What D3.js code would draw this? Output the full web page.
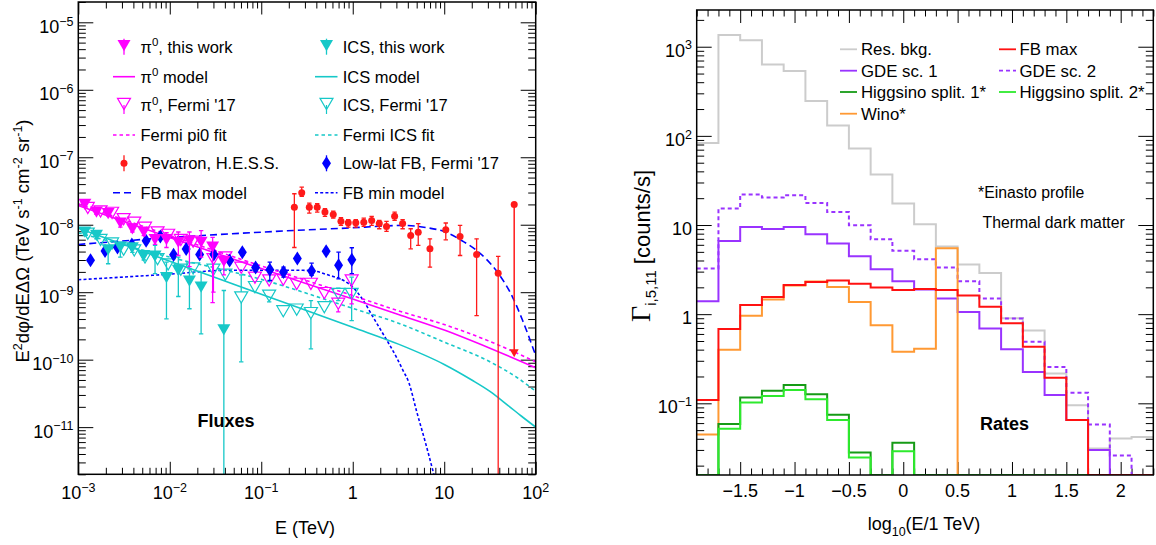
<!DOCTYPE html>
<html><head><meta charset="utf-8">
<script src="https://cdn.jsdelivr.net/npm/d3@7/dist/d3.min.js"></script>
<style>
html,body{margin:0;padding:0;background:#fff;}
svg{display:block;}
text{font-family:"Liberation Sans",Arial,Helvetica,sans-serif;fill:#000;}
</style></head><body>
<svg id="chart" width="1156" height="545"></svg>
<script>
// ================= LEFT PANEL DATA (E in TeV; E^2 dphi/dE dOmega in TeV s^-1 cm^-2 sr^-1) =================
const pi0WorkE  = [1.18e-3,1.58e-3,2.12e-3,2.88e-3,3.9e-3,5.2e-3,6.9e-3,9.2e-3,1.24e-2,1.64e-2,2.2e-2,2.94e-2,3.9e-2];
const pi0WorkV  = [2.0e-8,1.54e-8,1.46e-8,1.06e-8,8.7e-9,7.8e-9,6.0e-9,6.0e-9,5.5e-9,5.7e-9,5.5e-9,4.66e-9,2.85e-9];
const pi0WorkHi = [2.15e-8,1.66e-8,1.58e-8,1.2e-8,9.7e-9,8.8e-9,7.0e-9,7.6e-9,7.8e-9,7.8e-9,8.2e-9,6.5e-9,3.4e-9];
const pi0WorkLo = [1.85e-8,1.42e-8,1.35e-8,9.2e-9,7.8e-9,6.9e-9,5.1e-9,4.6e-9,3.5e-9,2.4e-9,3.3e-9,7.0e-10,1.8e-9];

const icsWorkE  = [1.18e-3,1.58e-3,2.12e-3,2.88e-3,3.9e-3,5.2e-3,6.9e-3,9.2e-3,1.24e-2,1.64e-2,2.2e-2,3.9e-2];
const icsWorkV  = [7.76e-9,6.93e-9,4.26e-9,4.65e-9,4.56e-9,3.5e-9,3.42e-9,1.64e-9,2.10e-9,1.46e-9,1.19e-9,2.77e-10];
const icsWorkHi = [8.6e-9,7.7e-9,4.66e-9,5.5e-9,5.2e-9,4.0e-9,4.93e-9,2.79e-9,3.31e-9,2.22e-9,1.98e-9,1.06e-9];
const icsWorkLo = [7.0e-9,6.2e-9,2.64e-9,3.3e-9,3.9e-9,3.0e-9,1.88e-9,4.03e-10,8.63e-10,5.68e-10,2.41e-10,1e-14];

const fermiE     = [1.27e-3,1.75e-3,2.34e-3,3.13e-3,4.09e-3,5.36e-3,7.35e-3,9.6e-3,1.32e-2,1.80e-2,3.0e-2,4.05e-2,6.04e-2,8.53e-2,0.122,0.174,0.244,0.349,0.489,0.695,0.973];
const pi0FermiV  = [1.77e-8,1.57e-8,1.50e-8,1.21e-8,1.07e-8,9.0e-9,7.7e-9,7.08e-9,5.93e-9,5.6e-9,3.09e-9,3.27e-9,2.3e-9,1.64e-9,1.49e-9,1.53e-9,1.33e-9,1.33e-9,9.7e-10,6.73e-10,1.49e-9];
const pi0FermiHi = [1.9e-8,1.68e-8,1.6e-8,1.3e-8,1.15e-8,9.7e-9,8.3e-9,7.7e-9,6.5e-9,6.2e-9,4.2e-9,3.7e-9,2.55e-9,1.8e-9,1.64e-9,1.68e-9,1.46e-9,1.47e-9,1.08e-9,8.0e-10,1.67e-9];
const pi0FermiLo = [1.64e-8,1.46e-8,1.4e-8,1.12e-8,9.9e-9,8.3e-9,7.1e-9,6.5e-9,5.4e-9,5.0e-9,1.0e-9,2.8e-9,2.05e-9,1.48e-9,1.34e-9,1.38e-9,1.2e-9,1.19e-9,8.6e-10,5.1e-10,6.7e-10];
const icsFermiV  = [7.35e-9,5.93e-9,5.26e-9,4.26e-9,4.16e-9,3.27e-9,3.09e-9,2.58e-9,2.16e-9,2.24e-9,2.16e-9,1.81e-9,8.37e-10,1.19e-9,8.87e-10,5.21e-10,5.52e-10,4.9e-10,6.0e-10,9.4e-10,9.4e-10];
const icsFermiHi = [7.9e-9,6.4e-9,5.7e-9,4.6e-9,4.5e-9,3.55e-9,3.35e-9,2.8e-9,2.35e-9,2.45e-9,2.4e-9,2.0e-9,1.8e-9,1.4e-9,1.05e-9,5.9e-10,6.2e-10,7.5e-10,7.0e-10,1.15e-9,1.67e-9];
const icsFermiLo = [6.8e-9,5.45e-9,4.8e-9,3.9e-9,3.8e-9,3.0e-9,2.83e-9,2.36e-9,1.97e-9,2.04e-9,1.95e-9,1.62e-9,9.3e-11,1.0e-9,7.2e-10,4.55e-10,4.85e-10,1.45e-10,5.0e-10,7.5e-10,3.8e-10];

const hessE  = [0.230,0.277,0.335,0.409,0.497,0.612,0.743,0.893,1.08,1.32,1.61,1.95,2.34,2.87,3.51,4.30,5.20,6.98,10.4,14.9,22.6,38.9];
const hessV  = [1.82e-8,2.99e-8,1.82e-8,1.82e-8,1.54e-8,1.42e-8,1.13e-8,1.07e-8,1.07e-8,1.09e-8,1.16e-8,1.04e-8,9.44e-9,1.33e-8,1.04e-8,6.94e-9,7.76e-9,4.4e-9,8.43e-9,6.7e-9,3.62e-9,1.91e-9];
const hessHi = [2.88e-8,3.6e-8,2.09e-8,2.05e-8,1.73e-8,1.59e-8,1.27e-8,1.19e-8,1.19e-8,1.25e-8,1.33e-8,1.16e-8,1.12e-8,1.54e-8,1.19e-8,8.72e-9,1.04e-8,6.19e-9,1.06e-8,9.77e-9,6.19e-9,3.39e-9];
const hessLo = [4.6e-9,2.63e-8,1.49e-8,1.54e-8,1.33e-8,1.25e-8,9.77e-9,9.2e-9,9.2e-9,9.44e-9,9.77e-9,8.72e-9,7.96e-9,1.16e-8,8.72e-9,4.4e-9,4.93e-9,2.35e-9,5.98e-9,3.5e-9,4.5e-10,1e-14];
const hessUL = {E: 58.2, V: 2.0e-8, arrowTo: 1.09e-10};

const lowLatE  = [1.36e-3,1.96e-3,2.68e-3,3.85e-3,5.51e-3,7.89e-3,1.10e-2,1.51e-2,2.12e-2,3.03e-2,4.51e-2,6.21e-2,8.67e-2,0.124,0.175,0.248,0.355,0.512,0.700,0.977];
const lowLatV  = [2.98e-9,4.07e-9,4.59e-9,5.1e-9,5.81e-9,6.7e-9,3.6e-9,4.36e-9,3.63e-9,3.63e-9,2.95e-9,3.9e-9,2.32e-9,2.15e-9,1.99e-9,3.16e-9,2.07e-9,4.04e-9,2.5e-9,3.03e-9];
const lowLatHi = [3.2e-9,4.35e-9,4.9e-9,5.45e-9,6.2e-9,7.15e-9,3.85e-9,4.7e-9,3.95e-9,3.95e-9,3.2e-9,4.25e-9,2.6e-9,2.79e-9,2.35e-9,3.45e-9,2.69e-9,4.4e-9,3.92e-9,4.56e-9];
const lowLatLo = [2.76e-9,3.8e-9,4.3e-9,4.75e-9,5.4e-9,6.25e-9,3.35e-9,4.05e-9,3.33e-9,3.33e-9,2.7e-9,3.55e-9,2.05e-9,1.49e-9,1.67e-9,2.88e-9,1.77e-9,3.7e-9,1.58e-9,1.88e-9];

// model curves
const pi0ModelE = [1e-3,1e-2,0.1,1,3.16,10,31.6,100];
const pi0ModelV = [1.93e-8,6.46e-9,2.24e-9,7.94e-10,4.68e-10,2.75e-10,1.48e-10,7.6e-11];
const pi0FitE   = [1e-3,1e-2,0.1,1,3.16,10,31.6,100];
const pi0FitV   = [2.04e-8,6.92e-9,2.45e-9,8.91e-10,5.3e-10,3.31e-10,1.86e-10,9.3e-11];
const icsModelE = [1e-3,1e-2,0.1,1,3.16,10,20,31.6,50,70,100];
const icsModelV = [8.9e-9,2.88e-9,9.33e-10,3.02e-10,1.7e-10,8.5e-11,5.0e-11,3.39e-11,2.09e-11,1.45e-11,1.0e-11];
const icsFitE   = [1e-3,1e-2,0.1,1,3.16,10,31.6,63,100];
const icsFitV   = [7.6e-9,3.31e-9,1.55e-9,5.75e-10,3.47e-10,1.82e-10,9.3e-11,5.4e-11,3.4e-11];
const fbMaxE    = [1e-3,1e-2,0.1,0.316,1,2,3.55,6.3,10,15.8,22.4,38.9,56,72,100];
const fbMaxV    = [5.1e-9,6.45e-9,7.76e-9,8.4e-9,9.0e-9,9.5e-9,9.77e-9,9.1e-9,7.9e-9,5.75e-9,4.2e-9,1.91e-9,8.4e-10,3.8e-10,1.15e-10];
const fbMinE    = [1e-3,0.01,0.045,0.2,0.34,0.56,0.79,1.0,1.3,1.67,2.15,3.0,3.55,4.1,5.0,6.3,7.7];
const fbMinV    = [1.53e-9,1.85e-9,2.12e-9,2.12e-9,2.1e-9,1.77e-9,1.5e-9,1.19e-9,7.6e-10,4.26e-10,2.4e-10,1.09e-10,6.9e-11,4.6e-11,1.7e-11,5.6e-12,2.0e-12];

const leftXTicks = [1e-3,1e-2,1e-1,1,10,100];
const leftXLabels = [["10","−3"],["10","−2"],["10","−1"],["1",""],["10",""],["10","2"]];
const leftYTicks = [1e-5,1e-6,1e-7,1e-8,1e-9,1e-10,1e-11];
const leftYLabels = [["10","−5"],["10","−6"],["10","−7"],["10","−8"],["10","−9"],["10","−10"],["10","−11"]];

// ================= RIGHT PANEL DATA (rates, counts/s, bins of log10(E/1 TeV)) =================
const binLow  = [-1.9,-1.7,-1.5,-1.3,-1.1,-0.9,-0.7,-0.5,-0.3,-0.1,0.1,0.3,0.5,0.7,0.9,1.1,1.3,1.5,1.7,1.9,2.1];
const binWidth = 0.2;
const resBkg  = [83,1352,1180,630,534,246,131,72,36.8,17.4,10.2,5.75,3.6,2.9,0.9,0.655,0.216,0.095,0.0312,0.0404,0.042];
const gdeSc1  = [1.4,6.6,9.5,9.05,9.5,7.9,6.2,4.47,3.2,2.34,1.89,1.5,1.06,0.69,0.405,0.225,0.124,0.065,0.030,0,0];
const gdeSc2  = [3.25,15.3,22.0,20.3,21.6,17.7,14.0,9.95,6.93,5.13,4.14,3.34,2.34,1.5,0.895,0.49,0.256,0.131,0.058,0.026,0];
const fbMax   = [0.109,0.68,1.27,1.56,2.13,2.3,2.39,2.19,1.99,1.87,1.91,1.87,1.62,1.21,0.79,0.43,0.193,0.065,0,0,0];
const wino    = [0.0446,0.398,0.96,1.46,2.1,2.33,2.02,1.37,0.753,0.378,0.41,5.5,0,0,0,0,0,0,0,0,0];
const higgs1  = [0,0.0585,0.116,0.138,0.16,0.126,0.0743,0.028,0,0.036,0,0,0,0,0,0,0,0,0,0,0];
const higgs2  = [0,0.0518,0.102,0.121,0.141,0.111,0.065,0.0247,0,0.029,0,0,0,0,0,0,0,0,0,0,0];
const rightXTicks = [-1.5,-1,-0.5,0,0.5,1,1.5,2];
const rightXLabels = ["−1.5","−1","−0.5","0","0.5","1","1.5","2"];
const rightYTicks = [0.1,1,10,100,1000];
const rightYLabels = [["10","−1"],["1",""],["10",""],["10","2"],["10","3"]];

// ================= DRAWING =================
const svg = d3.select("#chart");
const FS = 18, SUP = 12.5;
const MAG = "#ff00ff", CYAN = "#16c8c8", BLUE = "#0000ff", RED = "#ff1a1a";

const L = {x0:78.3, x1:535.7, y0:2, y1:474.3};
const R = {x0:696.7, x1:1153.3, y0:10, y1:475};
const xL = d3.scaleLog().domain([1e-3,1e2]).range([L.x0,L.x1]);
const yL = d3.scaleLog().domain([2e-12,2e-5]).range([L.y1,L.y0]);
const xR = d3.scaleLinear().domain([-1.9,2.3]).range([R.x0,R.x1]);
const yMinR = 0.0157, yMaxR = 2582;
const yR = d3.scaleLog().domain([yMinR,yMaxR]).range([R.y1,R.y0]);

const defs = svg.append("defs");
defs.append("clipPath").attr("id","clipL").append("rect").attr("x",L.x0).attr("y",L.y0).attr("width",L.x1-L.x0).attr("height",L.y1-L.y0);
defs.append("clipPath").attr("id","clipR").append("rect").attr("x",R.x0).attr("y",R.y0).attr("width",R.x1-R.x0).attr("height",R.y1-R.y0);

function richText(g, x, y, parts, opts={}){
  const t = g.append("text").attr("x",x).attr("y",y).attr("font-size",opts.size||FS)
    .attr("text-anchor",opts.anchor||"start");
  if(opts.weight) t.attr("font-weight",opts.weight);
  if(opts.transform) t.attr("transform",opts.transform);
  let cur = 0;
  parts.forEach(p=>{
    const [s,kind,extra,fsz] = p;
    if(!s) return;
    const target = kind==="sup" ? -(extra||7.3) : kind==="sub" ? (extra||5) : 0;
    const ts = t.append("tspan").text(s).attr("dy", target-cur)
      .attr("font-size", fsz || (kind==="sup"||kind==="sub" ? (opts.sup||SUP) : (opts.size||FS)));
    if(kind==="serif") ts.attr("font-family","'Liberation Serif','DejaVu Serif',serif").attr("font-size",extra||22);
    cur = target;
  });
  return t;
}

function logTickVals(lo,hi){
  const maj=[],min=[];
  for(let e=Math.floor(Math.log10(lo))-1;e<=Math.ceil(Math.log10(hi));e++){
    for(let m=1;m<10;m++){
      const v=m*Math.pow(10,e);
      if(v>=lo*0.9999 && v<=hi*1.0001)(m===1?maj:min).push(v);
    }
  }
  return {maj,min};
}
function tickAxis(g, axisFn, scale, vals, len, tr){
  const a = g.append("g").attr("transform",tr)
    .call(axisFn(scale).tickValues(vals).tickSize(-len).tickFormat(""));
  a.select(".domain").remove();
  a.selectAll("line").attr("stroke","#000").attr("stroke-width",1);
}

// ---------- LEFT PANEL ----------
const gl = svg.append("g");
{
  const tx = logTickVals(1e-3,1e2), ty = logTickVals(2e-12,2e-5);
  tickAxis(gl, d3.axisBottom, xL, tx.maj, 12.5, `translate(0,${L.y1})`);
  tickAxis(gl, d3.axisBottom, xL, tx.min, 6.5, `translate(0,${L.y1})`);
  tickAxis(gl, d3.axisTop, xL, tx.maj, 12.5, `translate(0,${L.y0})`);
  tickAxis(gl, d3.axisTop, xL, tx.min, 6.5, `translate(0,${L.y0})`);
  tickAxis(gl, d3.axisLeft, yL, ty.maj, 15, `translate(${L.x0},0)`);
  tickAxis(gl, d3.axisLeft, yL, ty.min, 7.5, `translate(${L.x0},0)`);
  tickAxis(gl, d3.axisRight, yL, ty.maj, 15, `translate(${L.x1},0)`);
  tickAxis(gl, d3.axisRight, yL, ty.min, 7.5, `translate(${L.x1},0)`);
  leftXTicks.forEach((v,i)=>{
    const [b,s]=leftXLabels[i];
    richText(gl, xL(v), 499, [[b,"n"],[s,"sup"]], {anchor:"middle"});
  });
  leftYTicks.forEach((v,i)=>{
    const [b,s]=leftYLabels[i];
    richText(gl, 73.5, yL(v)+10.5, [[b,"n"],[s,"sup"]], {anchor:"end"});
  });
  richText(gl, 305, 534, [["E (TeV)","n"]], {anchor:"middle"});
  richText(gl, 0, 0, [["E","n"],["2","sup"],["dφ/dEΔΩ (TeV s","n"],["-1","sup"],[" cm","n"],["-2","sup"],[" sr","n"],["-1","sup"],[")","n"]],
    {anchor:"middle", transform:"translate(29,241) rotate(-90)", size:18.5});
}
const plotL = gl.append("g").attr("clip-path","url(#clipL)");
function modelLine(E,V,color,dash){
  const pts = E.map((e,i)=>[xL(e),yL(V[i])]);
  plotL.append("path").attr("d",d3.line().curve(d3.curveMonotoneX)(pts))
    .attr("fill","none").attr("stroke",color).attr("stroke-width",1.6)
    .attr("stroke-dasharray",dash||null);
}
modelLine(fbMaxE,fbMaxV,BLUE,"7,4");
modelLine(fbMinE,fbMinV,BLUE,"3,2.2");
modelLine(icsModelE,icsModelV,CYAN);
modelLine(icsFitE,icsFitV,CYAN,"3.5,3");
modelLine(pi0ModelE,pi0ModelV,MAG);
modelLine(pi0FitE,pi0FitV,MAG,"3.5,3");

const clampY = v => yL(Math.max(v,2e-12));
const TW = 6.5, TH = 5.6;
function triPath(x,y,hw,hh){return `M${x-hw},${y-hh}L${x+hw},${y-hh}L${x},${y+hh}Z`;}
function diaPath(x,y,hw,hh){return `M${x},${y-hh}L${x+hw},${y}L${x},${y+hh}L${x-hw},${y}Z`;}
function vbar(g,x,ya,yb,color,capA,capB,w){
  if(yb<=ya) return;
  g.append("line").attr("x1",x).attr("x2",x).attr("y1",ya).attr("y2",yb).attr("stroke",color).attr("stroke-width",w||1.3);
  if(capA) g.append("line").attr("x1",x-2.2).attr("x2",x+2.2).attr("y1",ya).attr("y2",ya).attr("stroke",color).attr("stroke-width",1.3);
  if(capB) g.append("line").attr("x1",x-2.2).attr("x2",x+2.2).attr("y1",yb).attr("y2",yb).attr("stroke",color).attr("stroke-width",1.3);
}
function pointSeries(E,V,Hi,Lo,color,shape){
  const g = plotL.append("g");
  E.forEach((e,i)=>{
    const x=xL(e), y=yL(V[i]), yh=yL(Hi[i]), yl=clampY(Lo[i]);
    const lowCap = Lo[i]>2e-12;
    if(shape==="tri"||shape==="dia"||shape==="dot"){
      vbar(g,x,yh,yl,color,true,lowCap);
    } else {
      vbar(g,x,yh,y-TH,color,true,false);
      vbar(g,x,y+TH,yl,color,false,lowCap);
    }
  });
  E.forEach((e,i)=>{
    const x=xL(e), y=yL(V[i]);
    if(shape==="tri") g.append("path").attr("d",triPath(x,y,TW,TH)).attr("fill",color);
    else if(shape==="otri") g.append("path").attr("d",triPath(x,y,TW,TH)).attr("fill","none").attr("stroke",color).attr("stroke-width",1.2);
    else if(shape==="dia") g.append("path").attr("d",diaPath(x,y,4.5,7)).attr("fill",color);
    else if(shape==="dot") g.append("circle").attr("cx",x).attr("cy",y).attr("r",3.5).attr("fill",color);
  });
}
pointSeries(fermiE,icsFermiV,icsFermiHi,icsFermiLo,CYAN,"otri");
pointSeries(fermiE,pi0FermiV,pi0FermiHi,pi0FermiLo,MAG,"otri");
pointSeries(lowLatE,lowLatV,lowLatHi,lowLatLo,BLUE,"dia");
pointSeries(icsWorkE,icsWorkV,icsWorkHi,icsWorkLo,CYAN,"tri");
pointSeries(pi0WorkE,pi0WorkV,pi0WorkHi,pi0WorkLo,MAG,"tri");
pointSeries(hessE,hessV,hessHi,hessLo,RED,"dot");
{ // upper limit arrow
  const x=xL(hessUL.E), y=yL(hessUL.V), ya=yL(hessUL.arrowTo);
  plotL.append("line").attr("x1",x).attr("x2",x).attr("y1",y).attr("y2",ya-6).attr("stroke",RED).attr("stroke-width",1.5);
  plotL.append("path").attr("d",`M${x-4.5},${ya-8}L${x+4.5},${ya-8}L${x},${ya}Z`).attr("fill",RED);
  plotL.append("circle").attr("cx",x).attr("cy",y).attr("r",3.5).attr("fill",RED);
}
richText(gl, 197.5, 427, [["Fluxes","n"]], {weight:"bold"});

// left legend
{
  const rows=[46.7,76.7,105,135,163.3,192.7], cx=[124,326.5], lx=[[113,135],[315,337.5]], tx=[140.5,342.7];
  const items=[
    [0,0,"tri",MAG,null,[["π","n"],["0","sup",6.5],[", this work","n"]]],
    [1,0,"tri",CYAN,null,[["ICS, this work","n"]]],
    [0,1,"line",MAG,null,[["π","n"],["0","sup",6.5],[" model","n"]]],
    [1,1,"line",CYAN,null,[["ICS model","n"]]],
    [0,2,"otri",MAG,null,[["π","n"],["0","sup",6.5],[", Fermi '17","n"]]],
    [1,2,"otri",CYAN,null,[["ICS, Fermi '17","n"]]],
    [0,3,"line",MAG,"3.5,3",[["Fermi pi0 fit","n"]]],
    [1,3,"line",CYAN,"3.5,3",[["Fermi ICS fit","n"]]],
    [0,4,"dot",RED,null,[["Pevatron, H.E.S.S.","n"]]],
    [1,4,"dia",BLUE,null,[["Low-lat FB, Fermi '17","n"]]],
    [0,5,"line",BLUE,"7,4",[["FB max model","n"]]],
    [1,5,"line",BLUE,"3,2.2",[["FB min model","n"]]]
  ];
  const lg = gl.append("g");
  items.forEach(([c,r,type,color,dash,label])=>{
    const y=rows[r], x=cx[c];
    if(type==="line"){
      lg.append("line").attr("x1",lx[c][0]).attr("x2",lx[c][1]).attr("y1",y).attr("y2",y)
        .attr("stroke",color).attr("stroke-width",1.6).attr("stroke-dasharray",dash);
    } else {
      if(type==="otri"){
        lg.append("line").attr("x1",x).attr("x2",x).attr("y1",y).attr("y2",y+9).attr("stroke",color).attr("stroke-width",1.2);
        lg.append("path").attr("d",triPath(x,y-1,TW,TH)).attr("fill","none").attr("stroke",color).attr("stroke-width",1.2);
      } else {
        lg.append("line").attr("x1",x).attr("x2",x).attr("y1",y-8).attr("y2",y+8).attr("stroke",color).attr("stroke-width",1.3);
        if(type==="tri") lg.append("path").attr("d",triPath(x,y-1,TW,TH)).attr("fill",color);
        if(type==="dot") lg.append("circle").attr("cx",x).attr("cy",y).attr("r",3.5).attr("fill",color);
        if(type==="dia") lg.append("path").attr("d",diaPath(x,y,4.5,7)).attr("fill",color);
      }
    }
    richText(lg, tx[c], y+6, label, {size:16.5, sup:11.5});
  });
}
gl.append("rect").attr("x",L.x0).attr("y",L.y0).attr("width",L.x1-L.x0).attr("height",L.y1-L.y0)
  .attr("fill","none").attr("stroke","#000").attr("stroke-width",1.5);

// ---------- RIGHT PANEL ----------
const gr = svg.append("g");
{
  const ty = logTickVals(yMinR,yMaxR);
  const xMin = d3.range(-19,24).map(i=>i/10).filter(v=>!rightXTicks.some(t=>Math.abs(t-v)<1e-9));
  tickAxis(gr, d3.axisBottom, xR, rightXTicks, 13, `translate(0,${R.y1})`);
  tickAxis(gr, d3.axisBottom, xR, xMin, 6.5, `translate(0,${R.y1})`);
  tickAxis(gr, d3.axisTop, xR, rightXTicks, 13, `translate(0,${R.y0})`);
  tickAxis(gr, d3.axisTop, xR, xMin, 6.5, `translate(0,${R.y0})`);
  tickAxis(gr, d3.axisLeft, yR, ty.maj, 15, `translate(${R.x0},0)`);
  tickAxis(gr, d3.axisLeft, yR, ty.min, 7.5, `translate(${R.x0},0)`);
  tickAxis(gr, d3.axisRight, yR, ty.maj, 15, `translate(${R.x1},0)`);
  tickAxis(gr, d3.axisRight, yR, ty.min, 7.5, `translate(${R.x1},0)`);
  rightXTicks.forEach((v,i)=>richText(gr, xR(v), 497, [[rightXLabels[i],"n"]], {anchor:"middle"}));
  rightYTicks.forEach((v,i)=>{
    const [b,s]=rightYLabels[i];
    richText(gr, 692, yR(v)+10, [[b,"n"],[s,"sup"]], {anchor:"end"});
  });
  richText(gr, 924, 529.5, [["log","n"],["10","sub",6],["(E/1 TeV)","n"]], {anchor:"middle"});
  richText(gr, 0, 0, [["Γ","serif",28],["i,5,11","sub",6,15],["  [counts/s]","n",0,22]],
    {anchor:"middle", transform:"translate(650,246) rotate(-90)", size:22});
}
const plotR = gr.append("g").attr("clip-path","url(#clipR)");
function hist(vals,color,dash,w){
  const pts = binLow.map((b,i)=>[b, vals[i]]);
  pts.push([binLow[binLow.length-1]+binWidth, vals[vals.length-1]]);
  const line = d3.line().curve(d3.curveStepAfter)
    .x(d=>xR(d[0])).y(d=>yR(Math.max(d[1],yMinR)));
  plotR.append("path").attr("d",line(pts)).attr("fill","none").attr("stroke",color)
    .attr("stroke-width",w||2).attr("stroke-dasharray",dash||null);
}
const GRAY="#cccccc", PURP="#9933ff", DGRN="#169b16", LGRN="#2dea2d", ORNG="#ff9933", HRED="#ff1111";
hist(resBkg,GRAY);
hist(gdeSc2,PURP,"4,3");
hist(gdeSc1,PURP);
hist(wino,ORNG);
hist(higgs1,DGRN);
hist(higgs2,LGRN);
hist(fbMax,HRED);
{
  const rows=[49.3,70.7,92,113.7];
  const items=[
    [0,0,GRAY,null,"Res. bkg."],[1,0,HRED,null,"FB max"],
    [0,1,PURP,null,"GDE sc. 1"],[1,1,PURP,"4,3","GDE sc. 2"],
    [0,2,DGRN,null,"Higgsino split. 1*"],[1,2,LGRN,null,"Higgsino split. 2*"],
    [0,3,ORNG,null,"Wino*"]
  ];
  const lx=[[840,857],[999,1016]], tx=[861,1019.5];
  items.forEach(([c,r,color,dash,label])=>{
    gr.append("line").attr("x1",lx[c][0]).attr("x2",lx[c][1]).attr("y1",rows[r]).attr("y2",rows[r])
      .attr("stroke",color).attr("stroke-width",1.8).attr("stroke-dasharray",dash);
    richText(gr, tx[c], rows[r]+6, [[label,"n"]], {size:16.8});
  });
  richText(gr, 978, 198, [["*Einasto profile","n"]], {size:15.8});
  richText(gr, 982.5, 228, [["Thermal dark matter","n"]], {size:15.8});
  richText(gr, 980, 430, [["Rates","n"]], {weight:"bold"});
}
gr.append("rect").attr("x",R.x0).attr("y",R.y0).attr("width",R.x1-R.x0).attr("height",R.y1-R.y0)
  .attr("fill","none").attr("stroke","#000").attr("stroke-width",1.5);
</script></body></html>
